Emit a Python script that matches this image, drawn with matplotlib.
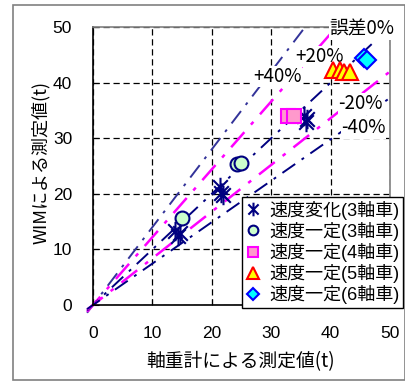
import matplotlib
matplotlib.use("Agg")
import matplotlib.pyplot as plt
from matplotlib.path import Path
from matplotlib.patches import Rectangle

CJK = ["Noto Sans CJK JP", "DejaVu Sans"]
MIX = ["Liberation Sans", "Noto Sans CJK JP"]

# --- data ---
var3_x = [13.8, 14.3, 14.6, 21.3, 21.6, 21.9, 35.5, 35.8, 36.1]
var3_y = [13.3, 12.4, 12.9, 21.2, 20.2, 19.8, 34.0, 33.0, 33.5]
const3_x = [14.9, 24.3, 25.0]
const3_y = [15.6, 25.4, 25.5]
const4_x = [32.9, 33.8]
const4_y = [34.0, 34.0]
const5_x = [40.4, 41.5, 42.3, 43.2]
const5_y = [42.2, 42.3, 41.9, 41.9]
const6_x = [45.6, 46.1]
const6_y = [44.5, 44.1]

labels = ["速度変化(3軸車)", "速度一定(3軸車)", "速度一定(4軸車)",
          "速度一定(5軸車)", "速度一定(6軸車)"]

# error guide lines: label, slope
err_names = ["+40%", "+20%", "誤差0%", "-20%", "-40%"]
err_slopes = [1.4, 1.22, 1.0, 0.84, 0.745]
err_colors = ["#333399", "#FF00FF", "#000080", "#FF00FF", "#000080"]
err_text_xy = [(31.1, 41.1), (38.1, 44.7), (45.2, 49.6), (45.0, 36.2), (45.6, 31.9)]

ticks = [0, 10, 20, 30, 40, 50]

asterisk = Path([(0, -1), (0, 1), (-0.75, -0.75), (0.75, 0.75), (-0.75, 0.75), (0.75, -0.75)],
                [Path.MOVETO, Path.LINETO, Path.MOVETO, Path.LINETO, Path.MOVETO, Path.LINETO])

fig = plt.figure(figsize=(4.06, 3.83), dpi=100)
fig.patches.append(Rectangle((13 / 406, 3 / 383), 392 / 406, 375 / 383, transform=fig.transFigure,
                             fill=False, edgecolor="#808080", lw=1.2))
ax = fig.add_axes([93 / 406, 1 - 305 / 383, 297 / 406, 278 / 383])
ax.set_xlim(0, 50)
ax.set_ylim(0, 50)

ax.grid(True, color="black", ls=(0, (5, 3)), lw=0.9)
for s in ("top", "right"):
    ax.spines[s].set_color("#808080")
for s in ("left", "bottom"):
    ax.spines[s].set_color("black")
for s in ax.spines.values():
    s.set_linewidth(1.2)

for k, sl, c in zip(err_names, err_slopes, err_colors):
    x1 = min(50, 50 / sl)
    lw = 1.8 if c == "#FF00FF" else 1.4
    ax.plot([-1.0, x1], [-1.0 * sl, x1 * sl], color=c, lw=lw,
            ls=(0, (8, 4, 1.5, 4)), clip_on=False, zorder=2)

for (tx, ty), name in zip(err_text_xy, err_names):
    ax.text(tx, ty, name, ha="center", va="center", fontsize=13.5, family=CJK,
            bbox=dict(facecolor="white", edgecolor="none", pad=0.3), zorder=5, clip_on=False)

ax.plot(var3_x, var3_y, ls="none", marker=asterisk, ms=14, mfc="none", mec="#000080",
        mew=1.5, label=labels[0], zorder=6)
ax.plot(const3_x, const3_y, ls="none", marker="o", ms=10, mfc="#CCFFCC", mec="#000080",
        mew=1.5, label=labels[1], zorder=6)
ax.plot(const4_x, const4_y, ls="none", marker="s", ms=10, mfc="#FF99CC", mec="#FF00FF",
        mew=1.5, label=labels[2], zorder=6)
ax.plot(const5_x, const5_y, ls="none", marker="^", ms=12, mfc="#FFFF00", mec="#FF0000",
        mew=1.5, label=labels[3], zorder=6)
ax.plot(const6_x, const6_y, ls="none", marker="D", ms=9, mfc="#00FFFF", mec="#0000FF",
        mew=1.5, label=labels[4], zorder=6)

ax.set_xticks(ticks)
ax.set_yticks(ticks)
ax.tick_params(direction="in", length=4, pad=15, labelsize=12.5)
for t in ax.get_xticklabels() + ax.get_yticklabels():
    t.set_family("Liberation Sans")

leg = ax.legend(loc="upper right", bbox_to_anchor=(403 / 406, 1 - 197 / 383),
                bbox_transform=fig.transFigure, prop=dict(family=MIX, size=13),
                frameon=True, fancybox=False, framealpha=1, edgecolor="black",
                borderpad=0.2, labelspacing=0.12, handlelength=0.8, handletextpad=0.5,
                borderaxespad=0, markerscale=0.7)
leg.get_frame().set_linewidth(1.0)
leg.set_zorder(10)

fig.text(241 / 406, 1 - 362 / 383, "軸重計による測定値(t)", ha="center", va="center",
         fontsize=13.5, family=CJK)
fig.text(41 / 406, 1 - 162 / 383, "WIMによる測定値(t)", ha="center", va="center",
         rotation=90, fontsize=13, family=CJK)

fig.savefig("out.png", dpi=100)
